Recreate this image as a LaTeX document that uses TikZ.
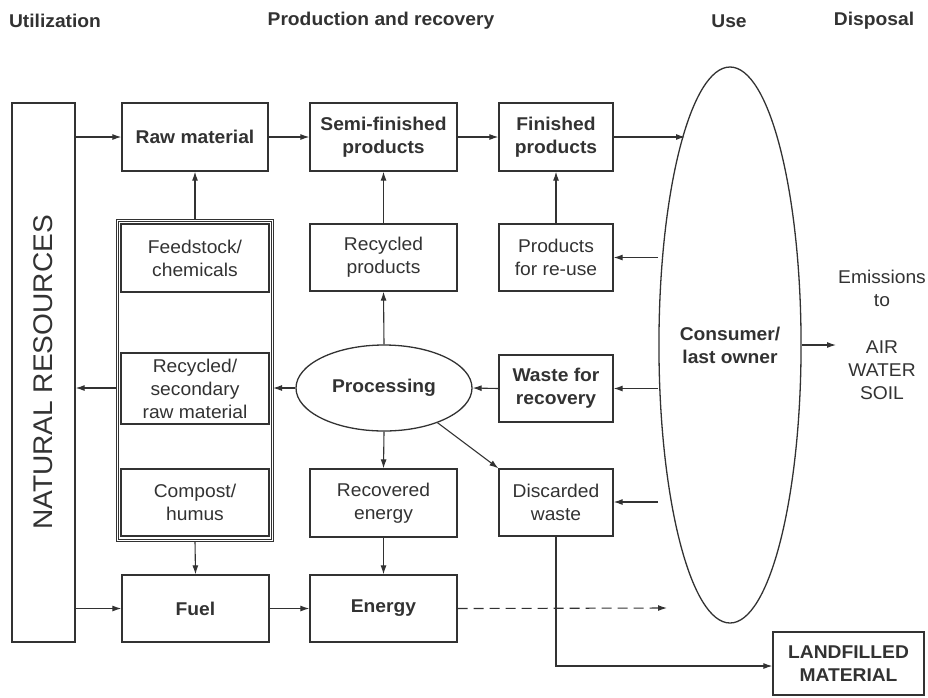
\documentclass[tikz,border=0pt]{standalone}
\usepackage{fontspec}
\setmainfont{Liberation Sans}[FakeStretch=1.04]
\usetikzlibrary{arrows.meta,shapes.geometric}
\definecolor{ink}{RGB}{50,50,50}
\begin{document}
\begin{tikzpicture}[x=1pt,y=-1pt,
  every node/.style={text=ink, font=\fontsize{18.5}{23}\selectfont, align=center, inner sep=0pt},
  box/.style={draw=ink, line width=1.3pt, rectangle},
  hd/.style={font=\fontsize{18.5}{23}\selectfont\bfseries},
  bf/.style={font=\fontsize{18.5}{23}\selectfont\bfseries},
  arr/.style={draw=ink, line width=1.1pt, -{Latex[length=9pt,width=6pt]}},
  ln/.style={draw=ink, line width=1.1pt}]
\useasboundingbox (0,0) rectangle (928,697);

% column headings
\node[hd] (h1) at (55,21) {Utilization};
\node[hd] (h2) at (381,21) {Production and recovery};
\node[hd] (h3) at (729,21) {Use};
\node[hd] (h4) at (874,21) {Disposal};

% natural resources column
\node[box, rotate=90, minimum width=539pt, minimum height=63pt,
      font=\fontsize{27}{30}\selectfont] (nr) at (43.5,372.5) {NATURAL RESOURCES};

% top row
\node[box, bf, minimum width=146pt, minimum height=68pt] (raw) at (195,137) {Raw material};
\node[box, bf, minimum width=147pt, minimum height=68pt] (semi) at (383.5,137) {Semi-finished\\products};
\node[box, bf, minimum width=114pt, minimum height=68pt] (fin) at (556,137) {Finished\\products};

% secondary materials group
\node[draw=ink, line width=1.1pt, double, double distance=1.6pt,
      minimum width=155pt, minimum height=320pt] (grp) at (195,380.5) {};
\node[box, line width=1.1pt, minimum width=148pt, minimum height=68pt] (feed) at (195,258) {Feedstock/\\chemicals};
\node[box, line width=1.1pt, minimum width=148pt, minimum height=71pt] (sec) at (195,388.5) {Recycled/\\secondary\\raw material};
\node[box, line width=1.1pt, minimum width=148pt, minimum height=67pt] (comp) at (195,502.5) {Compost/\\humus};

% recovery column
\node[box, minimum width=147pt, minimum height=67pt] (recp) at (383.5,257.5) {Recycled\\products};
\node[box, minimum width=114pt, minimum height=67pt] (reuse) at (556,257.5) {Products\\for re-use};
\node[draw=ink, line width=1.3pt, ellipse, minimum width=176pt, minimum height=86pt, bf] (proc) at (384,388) {Processing};
\node[box, bf, minimum width=114pt, minimum height=67pt] (waste) at (556,388.5) {Waste for\\recovery};
\node[box, minimum width=147pt, minimum height=68pt] (rece) at (383.5,503) {Recovered\\energy};
\node[box, minimum width=114pt, minimum height=67pt] (disc) at (556,502.5) {Discarded\\waste};

% bottom row
\node[box, bf, minimum width=147pt, minimum height=67pt] (fuel) at (195.5,608.5) {Fuel};
\node[box, bf, minimum width=147pt, minimum height=67pt] (energy) at (383.5,608.5) {Energy};
\node[box, bf, minimum width=151pt, minimum height=63pt] (land) at (848.5,663.5) {LANDFILLED\\MATERIAL};

% consumer
\node[draw=ink, line width=1.3pt, ellipse, minimum width=134pt, minimum height=556pt, bf] (cons) at (730,345) {Consumer/\\last owner};

% emissions
\node (emis) at (882,288) {Emissions\\to};
\node (air) at (882,370) {AIR\\WATER\\SOIL};

% loose ends
\coordinate (cin) at (685,137);
\coordinate (o1) at (658,257.5);
\coordinate (o2) at (658,388.5);
\coordinate (o3) at (658,502);
\coordinate (eout) at (802,345);
\coordinate (ein) at (836,345);
\coordinate (dashend) at (667,608);
\coordinate (bend) at (556,666);

% main flow
\draw[arr] (nr.south |- raw) -- (raw);
\draw[arr] (raw) -- (semi);
\draw[arr] (semi) -- (fin);
\draw[arr] (fin.east) -- (cin);
\draw[arr] (nr.south |- fuel) -- (fuel);
\draw[arr] (fuel) -- (energy);
\draw[arr, dash pattern=on 10pt off 6pt] (energy.east) -- (dashend);

% upward feeds
\draw[arr] (grp.north) -- (raw.south);
\draw[arr] (recp.north) -- (semi.south);
\draw[arr] (reuse.north) -- (fin.south);
\draw[arr] (proc.north) -- (recp.south);

% returns from consumer
\draw[arr] (o1) -- (reuse.east |- o1);
\draw[arr] (o2) -- (waste.east |- o2);
\draw[arr] (o3) -- (disc.east |- o3);

% processing
\draw[arr] (waste.west) -- (proc.east);
\draw[arr] (proc.west) -- (grp.east |- proc);
\draw[arr] (grp.west |- proc) -- (nr.south |- proc);
\draw[arr] (proc.south) -- (rece.north);
\draw[arr] (proc.-33) -- (disc.north west);
\draw[arr] (rece.south) -- (energy.north);
\draw[arr] (grp.south) -- (fuel.north);

% landfill
\draw[arr] (disc.south) -- (bend) -- (land.west |- bend);

% emissions
\draw[arr] (eout) -- (ein);
\end{tikzpicture}
\end{document}
